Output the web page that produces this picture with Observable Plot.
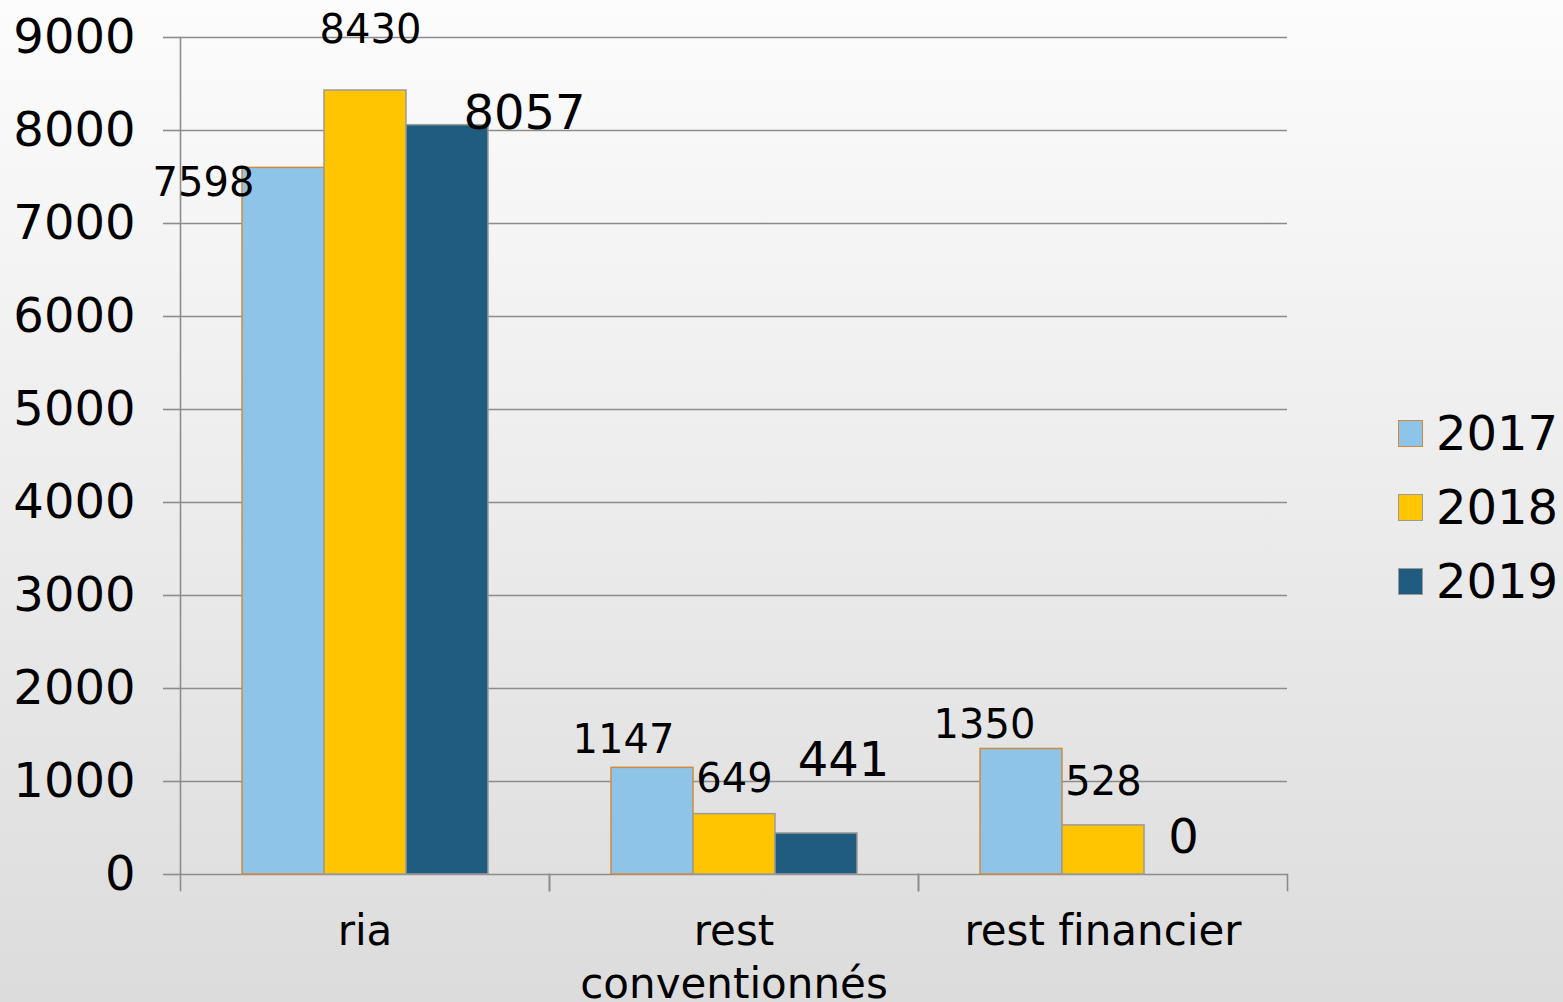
<!DOCTYPE html>
<html>
<head>
<meta charset="utf-8">
<script src="https://cdn.jsdelivr.net/npm/d3@7"></script>
<script src="https://cdn.jsdelivr.net/npm/@observablehq/plot@0.6"></script>
<style>
  html, body { margin: 0; padding: 0; }
  body {
    width: 1563px; height: 1002px; overflow: hidden;
    background: linear-gradient(to bottom, #fcfcfc 0%, #ececec 50%, #dcdcdc 100%);
    font-family: "DejaVu Sans", Verdana, sans-serif;
  }
  #wrap { position: relative; width: 1563px; height: 1002px; }
  #chart svg { display: block; }
  #chart text { font-variant-ligatures: none; }
  #legend { position: absolute; left: 1398px; top: 396px; }
  .item { display: flex; align-items: center; height: 74px; }
  .sw { width: 25px; height: 27px; box-sizing: border-box; border: 1.5px solid #999; }
  .lab { font-size: 48px; margin-left: 13px; color: #000; line-height: 1; }
</style>
</head>
<body>
<div id="wrap">
  <div id="chart"></div>
  <div id="legend"></div>
</div>
<script>
// ---- data ----
const categories = ["ria", "rest conventionnés", "rest financier"];
const categoryLabels = ["ria", "rest\nconventionnés", "rest financier"];
const years = ["2017", "2018", "2019"];
const values2017 = [7598, 1147, 1350];
const values2018 = [8430, 649, 528];
const values2019 = [8057, 441, 0];
const yTicks = [0, 1000, 2000, 3000, 4000, 5000, 6000, 7000, 8000, 9000];

// ---- styling (not data) ----
const colors = ["#8ec4e7", "#ffc500", "#1f5c80"];
const outline = ["#cf8a3e", "#9a9a9a", "#9a9a9a"];
const labelSize = [40, 40, 48];
// label nudges [dx, dy] per category (row) and year (col)
const labelNudge = [
  [[-80, 15], [5, -60], [77, -12]],
  [[-29, -28], [0, -35], [27, -73]],
  [[-37, -24], [0, -43], [-2, -37]]
];

const seriesValues = [values2017, values2018, values2019];
const rows = [];
categories.forEach((c, i) => years.forEach((y, j) => rows.push({category: c, year: y, value: seriesValues[j][i], ci: i, yi: j})));

const W = 1563, H = 1002, mt = 37, mb = 128, ml = 180, mr = 276;
const innerH = H - mt - mb;
const gridColor = "#8c8c8c";

const marks = [
  Plot.gridY(yTicks, {stroke: gridColor, strokeOpacity: 1, strokeWidth: 1.6}),
  Plot.axisY(yTicks, {tickSize: 17, tickPadding: 28, fontSize: 48, stroke: gridColor, strokeWidth: 1.6, fill: "#000", tickFormat: d => String(d), label: null}),
  Plot.frame({anchor: "left", stroke: gridColor, strokeWidth: 1.6, facetAnchor: "left"}),
  Plot.frame({anchor: "left", stroke: gridColor, strokeWidth: 1.6, insetTop: innerH, insetBottom: -16}),
  Plot.frame({anchor: "right", stroke: gridColor, strokeWidth: 1.6, insetTop: innerH, insetBottom: -16}),
  Plot.axisFx({anchor: "bottom", tickSize: 0, tickPadding: 34, fontSize: 42, lineHeight: 1.24, tickFormat: d => categoryLabels[categories.indexOf(d)], label: null, fill: "#000"}),
];
years.forEach((yr, j) => {
  marks.push(Plot.barY(rows.filter(d => d.year === yr && d.value > 0), {fx: "category", x: "year", y: "value", fill: "year", stroke: outline[j], strokeWidth: 1.5}));
});
rows.forEach(r => {
  const [dx, dy] = labelNudge[r.ci][r.yi];
  marks.push(Plot.text([r], {fx: "category", x: "year", y: "value", text: d => String(d.value), fontSize: labelSize[r.yi], fill: "#000", dx, dy}));
});

const chart = Plot.plot({
  width: W, height: H,
  marginTop: mt, marginBottom: mb, marginLeft: ml, marginRight: mr,
  style: {background: "transparent", fontFamily: "DejaVu Sans, Verdana, sans-serif", color: "#000", overflow: "visible"},
  fx: {domain: categories, padding: 0, label: null, axis: null},
  x: {domain: years, paddingInner: 0, paddingOuter: 0.742, axis: null},
  y: {domain: [0, 9000], axis: null},
  color: {domain: years, range: colors},
  marks
});
document.getElementById("chart").appendChild(chart);

// legend
const leg = document.getElementById("legend");
years.forEach((y, j) => {
  const it = document.createElement("div");
  it.className = "item";
  const sw = document.createElement("div");
  sw.className = "sw";
  sw.style.background = colors[j];
  sw.style.borderColor = outline[j];
  const lb = document.createElement("span");
  lb.className = "lab";
  lb.textContent = y;
  it.appendChild(sw); it.appendChild(lb);
  leg.appendChild(it);
});
</script>
</body>
</html>
